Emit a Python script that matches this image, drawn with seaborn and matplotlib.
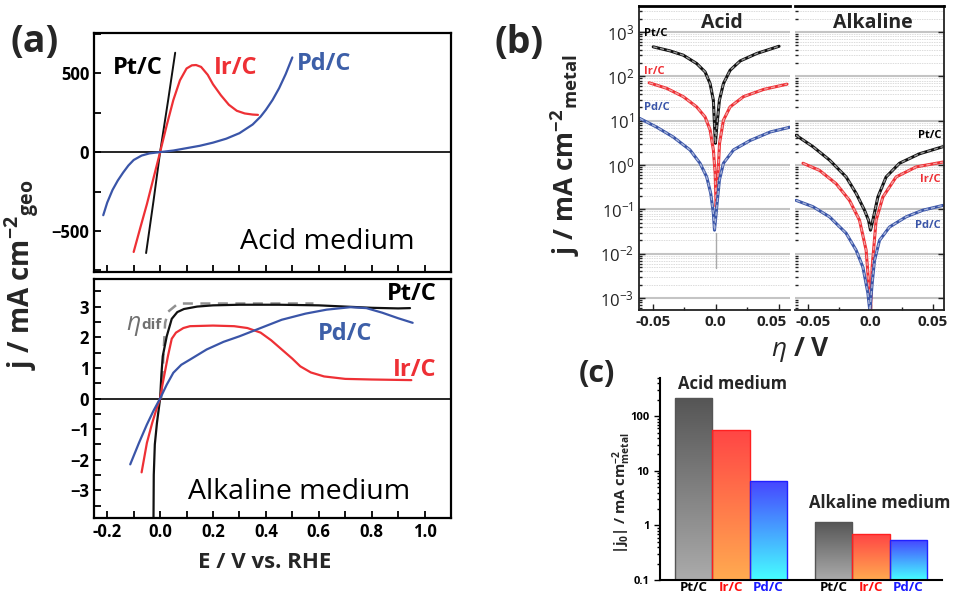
import numpy as np
import pandas as pd
import matplotlib
matplotlib.use("Agg")
import matplotlib.pyplot as plt
import matplotlib.transforms as mtransforms
import seaborn as sns
from matplotlib.ticker import MultipleLocator, LogLocator, NullFormatter, FixedLocator, FixedFormatter
from matplotlib.colors import LinearSegmentedColormap

sns.set_theme(style="ticks")
plt.rcParams['font.family'] = ['Open Sans', 'DejaVu Sans']
plt.rcParams['mathtext.fontset'] = 'custom'
plt.rcParams['mathtext.rm'] = 'Open Sans'
plt.rcParams['mathtext.it'] = 'Open Sans:italic'
plt.rcParams['mathtext.bf'] = 'Open Sans:bold'

# ---------------- data: panel (a), acid ----------------
pt_acid_E = [-0.053, -0.025, 0.0, 0.03, 0.057]
pt_acid_j = [-640, -310, 0, 325, 630]
ir_acid_E = [-0.10, -0.075, -0.05, -0.025, 0.0, 0.025, 0.05, 0.075, 0.10, 0.12, 0.136, 0.155,
             0.18, 0.20, 0.23, 0.26, 0.29, 0.32, 0.35, 0.37]
ir_acid_j = [-633, -480, -330, -165, 0, 170, 330, 455, 530, 550, 552, 540,
             490, 430, 360, 300, 262, 245, 238, 236]
pd_acid_E = [-0.215, -0.20, -0.18, -0.16, -0.14, -0.12, -0.10, -0.07, -0.04, 0.0, 0.05, 0.10,
             0.15, 0.20, 0.25, 0.30, 0.35, 0.38, 0.40, 0.425, 0.45, 0.475, 0.50]
pd_acid_j = [-400, -320, -240, -180, -130, -85, -50, -22, -8, 0, 10, 25,
             40, 60, 85, 120, 175, 225, 268, 330, 405, 495, 600]

# ---------------- data: panel (a), alkaline ----------------
pt_alk_E = [-0.025, -0.024, -0.02, -0.012, 0.0, 0.005, 0.01, 0.025, 0.044, 0.065, 0.09, 0.14,
            0.20, 0.30, 0.45, 0.60, 0.70, 0.80, 0.90, 0.945]
pt_alk_j = [-3.9, -2.5, -1.5, -0.8, 0.0, 0.8, 1.38, 2.03, 2.6, 2.82, 2.92, 3.0,
            3.04, 3.06, 3.06, 3.04, 3.0, 2.96, 2.94, 2.95]
ir_alk_E = [-0.07, -0.05, -0.03, -0.015, 0.0, 0.01, 0.02, 0.03, 0.044, 0.06, 0.088, 0.113,
            0.20, 0.28, 0.33, 0.38, 0.42, 0.46, 0.50, 0.53, 0.57, 0.62, 0.70, 0.80, 0.95]
ir_alk_j = [-2.41, -1.45, -0.8, -0.38, 0.0, 0.5, 0.95, 1.4, 1.95, 2.15, 2.3, 2.36,
            2.38, 2.36, 2.3, 2.15, 1.9, 1.6, 1.3, 1.05, 0.85, 0.72, 0.64, 0.62, 0.6]
pd_alk_E = [-0.113, -0.08, -0.05, -0.025, 0.0, 0.025, 0.05, 0.08, 0.113, 0.176, 0.24, 0.30,
            0.38, 0.46, 0.55, 0.63, 0.72, 0.78, 0.84, 0.90, 0.955]
pd_alk_j = [-2.15, -1.45, -0.85, -0.4, 0.0, 0.45, 0.84, 1.1, 1.27, 1.6, 1.85, 2.03,
            2.3, 2.57, 2.77, 2.9, 2.98, 2.95, 2.8, 2.62, 2.47]
eta_dif_E = [0.004, 0.019, 0.03, 0.068, 0.58]
eta_dif_j = [0.0, 2.47, 2.83, 3.1, 3.1]

# ---------------- data: panel (b) ----------------
pt_acid_eta = [-0.0497, -0.0364, -0.0258, -0.0152, -0.0085, -0.0045, -0.0019, -0.0003,
               0.0008, 0.0029, 0.0061, 0.0114, 0.0194, 0.0327, 0.0503]
pt_acid_jm = [466, 378, 302, 196, 127, 69, 29, 3.1, 7.3, 29, 69, 138, 224, 331, 480]
ir_acid_eta = [-0.0529, -0.039, -0.0258, -0.0152, -0.0085, -0.0045, -0.0019, -0.0005, 0.0003,
               0.0013, 0.003, 0.0061, 0.0114, 0.022, 0.038, 0.0566]
ir_acid_jm = [72, 54, 35, 20.6, 12.2, 6.2, 2.2, 0.66, 0.115, 0.32, 3.1, 10.3, 20.6, 35, 51, 67]
pd_acid_eta = [-0.0604, -0.047, -0.0338, -0.0205, -0.0125, -0.0072, -0.004, -0.0019, -0.001,
               0.0008, 0.0029, 0.0061, 0.0141, 0.0274, 0.0434, 0.0593]
pd_acid_jm = [11.3, 7.2, 4.3, 2.2, 1.1, 0.54, 0.23, 0.081, 0.034, 0.115, 0.46, 1.1, 2.2, 3.6, 5.6, 7.2]
acid_tail_eta = [0.0, 0.0]
acid_tail_jm = [0.03, 0.0047]
pt_alk_eta = [-0.0595, -0.046, -0.0328, -0.0195, -0.0115, -0.0048, -0.0016, 0.0, 0.0019,
              0.0059, 0.0125, 0.0232, 0.0392, 0.0579]
pt_alk_jm = [4.7, 2.6, 1.3, 0.54, 0.23, 0.096, 0.057, 0.034, 0.057, 0.19, 0.54, 1.1, 1.8, 2.6]
ir_alk_eta = [-0.054, -0.0408, -0.0275, -0.0168, -0.0088, -0.0035, -0.0008, 0.0, 0.0013,
              0.0045, 0.0099, 0.0205, 0.0365, 0.0579]
ir_alk_jm = [1.1, 0.76, 0.38, 0.16, 0.057, 0.012, 0.0012, 0.0005, 0.005, 0.057, 0.19, 0.54, 0.91, 1.17]
pd_alk_eta = [-0.0595, -0.046, -0.0328, -0.0195, -0.0115, -0.0061, -0.0021, -0.0005, 0.0013,
              0.0032, 0.0072, 0.0152, 0.0285, 0.0419, 0.0579]
pd_alk_jm = [0.16, 0.115, 0.068, 0.029, 0.012, 0.005, 0.0013, 0.0005, 0.0021, 0.007, 0.02,
             0.04, 0.068, 0.096, 0.123]

# ---------------- data: panel (c) ----------------
media = ["Acid medium", "Acid medium", "Acid medium",
         "Alkaline medium", "Alkaline medium", "Alkaline medium"]
catalysts = ["Pt/C", "Ir/C", "Pd/C", "Pt/C", "Ir/C", "Pd/C"]
j0_values = [220, 56, 6.5, 1.17, 0.69, 0.54]

W, H = 955, 596
fig = plt.figure(figsize=(W / 100, H / 100), dpi=100)
fig.patch.set_facecolor("white")


def ax_px(l, t, r, b):
    return fig.add_axes([l / W, 1 - b / H, (r - l) / W, (b - t) / H])


def ftext(x, y, s, **kw):
    return fig.text(x / W, 1 - y / H, s, **kw)


def line(ax, x, y, color, lw=1.6, **kw):
    sns.lineplot(x=x, y=y, ax=ax, color=color, lw=lw, sort=False,
                 estimator=None, legend=False, **kw)


BLK, RED, BLU = "#111111", "#ee3035", "#3a55a8"
LBLU = "#3d5fa8"

# ================= panel (a) =================
axa1 = ax_px(94, 33, 451, 272)
axa2 = ax_px(94, 279, 451, 518)
for ax in (axa1, axa2):
    ax.set_facecolor("white")
    for s in ax.spines.values():
        s.set_linewidth(1.6)
        s.set_color("black")
    ax.axhline(0, color="black", lw=1.2, zorder=1)
    ax.set_xlim(-0.25, 1.1)
    ax.xaxis.set_major_locator(MultipleLocator(0.2))
    ax.xaxis.set_minor_locator(MultipleLocator(0.1))
    ax.tick_params(which="both", direction="in", width=1.3, colors="black")
    ax.tick_params(which="major", length=5)
    ax.tick_params(which="minor", length=5)
    ax.set_xlabel("")
    ax.set_ylabel("")

line(axa1, pt_acid_E, pt_acid_j, BLK, lw=1.4)
line(axa1, ir_acid_E, ir_acid_j, RED, lw=1.6)
line(axa1, pd_acid_E, pd_acid_j, BLU, lw=1.6)
axa1.set_ylim(-760, 755)
axa1.yaxis.set_major_locator(FixedLocator([-500, 0, 500]))
axa1.yaxis.set_minor_locator(MultipleLocator(250))
axa1.tick_params(axis="x", labelbottom=False)
for lab in axa1.get_yticklabels():
    lab.set_fontweight("bold")
    lab.set_fontsize(12)

line(axa2, eta_dif_E, eta_dif_j, "#909090", lw=1.8, linestyle=(0, (4, 3)))
line(axa2, pt_alk_E, pt_alk_j, BLK, lw=1.6)
line(axa2, ir_alk_E, ir_alk_j, RED, lw=1.6)
line(axa2, pd_alk_E, pd_alk_j, BLU, lw=1.6)
axa2.set_ylim(-3.9, 3.9)
axa2.yaxis.set_major_locator(MultipleLocator(1))
axa2.yaxis.set_minor_locator(MultipleLocator(0.5))
axa2.set_xticks([-0.2, 0.0, 0.2, 0.4, 0.6, 0.8, 1.0])
axa2.set_xticklabels(["-0.2", "0.0", "0.2", "0.4", "0.6", "0.8", "1.0"])
for lab in axa2.get_yticklabels() + axa2.get_xticklabels():
    lab.set_fontweight("bold")
    lab.set_fontsize(12)

ftext(35, 42, "(a)", fontsize=27, fontweight="bold", ha="center", va="center")
ftext(138, 68, "Pt/C", fontsize=17, fontweight="bold", color="black", ha="center", va="center")
ftext(236, 68, "Ir/C", fontsize=17, fontweight="bold", color=RED, ha="center", va="center")
ftext(324, 64, "Pd/C", fontsize=17, fontweight="bold", color=LBLU, ha="center", va="center")
ftext(327, 242, "Acid medium", fontsize=20.5, color="black", ha="center", va="center")
ftext(412, 294, "Pt/C", fontsize=17, fontweight="bold", color="black", ha="center", va="center")
ftext(345, 334, "Pd/C", fontsize=17, fontweight="bold", color=LBLU, ha="center", va="center")
ftext(415, 370, "Ir/C", fontsize=17, fontweight="bold", color=RED, ha="center", va="center")
ftext(299, 492, "Alkaline medium", fontsize=20.5, color="black", ha="center", va="center")
ftext(133, 326, r"$\eta$", fontsize=18, color="#707070", ha="center", va="center")
ftext(141, 325, "dif", fontsize=11, fontweight="bold", color="#707070", ha="left", va="center")
ftext(22, 275, r"j / mA cm$^{\mathbf{-2}}$$_{\mathbf{geo}}$", fontsize=20, fontweight="bold",
      rotation=90, ha="center", va="center")
ftext(265, 563, "E / V vs. RHE", fontsize=16, fontweight="bold", ha="center", va="center")

# ================= panel (b) =================
axbL = ax_px(639, 6, 790, 310)
axbR = ax_px(795, 6, 944, 310)
dec_labels = {1e3: "$10^{3}$", 1e2: "$10^{2}$", 1e1: "$10^{1}$", 1e0: "$10^{0}$",
              1e-1: "$10^{-1}$", 1e-2: "$10^{-2}$", 1e-3: "$10^{-3}$"}
for ax in (axbL, axbR):
    ax.set_facecolor("white")
    ax.set_yscale("log")
    ax.set_ylim(10 ** -3.27, 10 ** 3.59)
    for d in dec_labels:
        ax.axhline(d, color="#c4c4c4", lw=1.5, zorder=0)
        for m in range(2, 10):
            v = d * m
            if v < 10 ** 3.59:
                ax.axhline(v, color="#dcdcdc", lw=0.7, ls=(0, (1.5, 1)), zorder=0)
    ax.xaxis.set_major_locator(FixedLocator([-0.05, 0.0, 0.05]))
    ax.xaxis.set_minor_locator(MultipleLocator(0.025))
    ax.yaxis.set_major_locator(FixedLocator(list(dec_labels.keys())))
    ax.yaxis.set_minor_locator(LogLocator(base=10, subs=np.arange(2, 10)))
    ax.yaxis.set_minor_formatter(NullFormatter())
    ax.tick_params(which="both", direction="in", colors="#222222", width=1.0)
    ax.tick_params(which="major", length=4)
    ax.tick_params(which="minor", length=2.5)
    for s in ax.spines.values():
        s.set_color("#222222")
        s.set_linewidth(1.3)
    ax.spines["top"].set_linewidth(2.0)
    ax.spines["top"].set_color("black")

axbL.set_xlim(-0.061, 0.059)
axbR.set_xlim(-0.0604, 0.0588)
axbL.spines["right"].set_visible(False)
axbR.spines["left"].set_visible(False)
axbL.tick_params(axis="y", left=True, right=False)
axbR.tick_params(axis="y", left=False, right=True, labelleft=False)
axbL.set_yticklabels([dec_labels[d] for d in dec_labels])
for lab in axbL.get_yticklabels():
    lab.set_fontsize(12)
for ax in (axbL, axbR):
    ax.set_xticklabels(["-0.05", "0.0", "0.05"])
    for lab in ax.get_xticklabels():
        lab.set_fontweight("bold")
        lab.set_fontsize(11)
    ax.set_xlabel("")
    ax.set_ylabel("")
# nudge the two touching labels apart (as in the reference)
lab_l = axbL.get_xticklabels()[-1]
lab_l.set_transform(lab_l.get_transform() + mtransforms.ScaledTranslation(-7 / 100, 0, fig.dpi_scale_trans))
lab_r = axbR.get_xticklabels()[0]
lab_r.set_transform(lab_r.get_transform() + mtransforms.ScaledTranslation(5 / 100, 0, fig.dpi_scale_trans))

FIT = dict(lw=1.0, linestyle=(0, (3, 2)))
for ax, sets in ((axbL, [(pt_acid_eta, pt_acid_jm, BLK, "#9a9a9a"),
                         (ir_acid_eta, ir_acid_jm, RED, "#f2a0a0"),
                         (pd_acid_eta, pd_acid_jm, BLU, "#a8b4d8")]),
                 (axbR, [(pt_alk_eta, pt_alk_jm, BLK, "#9a9a9a"),
                         (ir_alk_eta, ir_alk_jm, RED, "#f2a0a0"),
                         (pd_alk_eta, pd_alk_jm, BLU, "#a8b4d8")])):
    for xs, ys, c, fc in sets:
        line(ax, xs, ys, c, lw=2.2)
        line(ax, xs, ys, fc, **FIT)
line(axbL, acid_tail_eta, acid_tail_jm, "#aaaaaa", lw=1.0)

ftext(519, 43, "(b)", fontsize=27, fontweight="bold", ha="center", va="center")
ftext(722, 23, "Acid", fontsize=14, fontweight="bold", ha="center", va="center")
ftext(873, 23, "Alkaline", fontsize=14, fontweight="bold", ha="center", va="center")
ftext(644, 34, "Pt/C", fontsize=8, fontweight="bold", color="black", ha="left", va="center")
ftext(644, 72, "Ir/C", fontsize=8, fontweight="bold", color=RED, ha="left", va="center")
ftext(644, 108, "Pd/C", fontsize=8, fontweight="bold", color=BLU, ha="left", va="center")
ftext(941, 136, "Pt/C", fontsize=8, fontweight="bold", color="black", ha="right", va="center")
ftext(941, 179, "Ir/C", fontsize=8, fontweight="bold", color=RED, ha="right", va="center")
ftext(941, 226, "Pd/C", fontsize=8, fontweight="bold", color=BLU, ha="right", va="center")
ftext(565, 155, r"j / mA cm$^{\mathbf{-2}}$$_{\mathbf{metal}}$", fontsize=19, fontweight="bold",
      rotation=90, ha="center", va="center")
ftext(800, 350, r"$\eta$ / V", fontsize=19, fontweight="bold", ha="center", va="center")

# ================= panel (c) =================
axc = ax_px(660, 378, 942, 580)
axc.set_facecolor("white")
axc.set_yscale("log")
df = pd.DataFrame({"medium": media, "catalyst": catalysts, "j0": j0_values})
sns.barplot(data=df, x="medium", y="j0", hue="catalyst", hue_order=["Pt/C", "Ir/C", "Pd/C"],
            palette=["#808080", "#ff7040", "#40a0ff"], ax=axc, legend=False, errorbar=None,
            width=0.8, saturation=1)
axc.set_ylim(0.1, 10 ** 2.7)
axc.set_xlim(-0.507, 1.507)
axc.set_autoscale_on(False)
for s in ("top", "right"):
    axc.spines[s].set_visible(False)
for s in ("left", "bottom"):
    axc.spines[s].set_linewidth(1.5)
    axc.spines[s].set_color("black")
grads = {"Pt/C": ("#555555", "#ababab", "#555555"),
         "Ir/C": ("#ff4545", "#ffab50", "#ff2020"),
         "Pd/C": ("#4646ff", "#46ffff", "#2020ff")}
tick_pos, tick_lab, tick_col = [], [], []
label_colors = {"Pt/C": "black", "Ir/C": "#ff1010", "Pd/C": "#1a1aff"}
inv = axc.transAxes.inverted()
for cont, cat in zip(axc.containers, ["Pt/C", "Ir/C", "Pd/C"]):
    top_c, bot_c, edge_c = grads[cat]
    cmap = LinearSegmentedColormap.from_list(cat, [top_c, bot_c])
    for p in cont.patches:
        x0, w, h = p.get_x(), p.get_width(), p.get_height()
        (a0, b0) = inv.transform(axc.transData.transform((x0, 0.1)))
        (a1, b1) = inv.transform(axc.transData.transform((x0 + w, h)))
        grad = np.linspace(0, 1, 256)[:, None]
        im = axc.imshow(grad, cmap=cmap, aspect="auto", extent=[a0, a1, b0, b1],
                        transform=axc.transAxes, origin="upper", zorder=1,
                        interpolation="bilinear")
        im.set_clip_path(p)
        p.set_facecolor("none")
        p.set_edgecolor(edge_c)
        p.set_linewidth(1.0)
        p.set_zorder(2)
        tick_pos.append(x0 + w / 2)
        tick_lab.append(cat)
        tick_col.append(label_colors[cat])
axc.set_xticks(tick_pos)
axc.set_xticklabels(tick_lab)
axc.tick_params(axis="x", length=0, pad=0.5)
for lab, c in zip(axc.get_xticklabels(), tick_col):
    lab.set_color(c)
    lab.set_fontweight("bold")
    lab.set_fontsize(9.5)
axc.yaxis.set_major_locator(FixedLocator([0.1, 1, 10, 100]))
axc.yaxis.set_major_formatter(FixedFormatter(["0.1", "1", "10", "100"]))
axc.yaxis.set_minor_locator(LogLocator(base=10, subs=np.arange(2, 10)))
axc.yaxis.set_minor_formatter(NullFormatter())
axc.tick_params(axis="y", which="both", direction="out", colors="black", width=1.0)
axc.tick_params(axis="y", which="major", length=4, labelsize=8)
axc.tick_params(axis="y", which="minor", length=2.5)
for lab in axc.get_yticklabels():
    lab.set_fontweight("bold")
axc.set_xlabel("")
axc.set_ylabel("")

ftext(597, 374, "(c)", fontsize=22, fontweight="bold", ha="center", va="center")
ftext(732, 384, "Acid medium", fontsize=12, fontweight="bold", ha="center", va="center")
ftext(880, 503, "Alkaline medium", fontsize=12, fontweight="bold", ha="center", va="center")
ftext(622, 493, r"|j$_{\mathbf{0}}$| / mA cm$^{\mathbf{-2}}_{\mathbf{metal}}$", fontsize=10.5,
      fontweight="bold", rotation=90, ha="center", va="center")

fig.savefig("out.png", dpi=100, facecolor="white")
